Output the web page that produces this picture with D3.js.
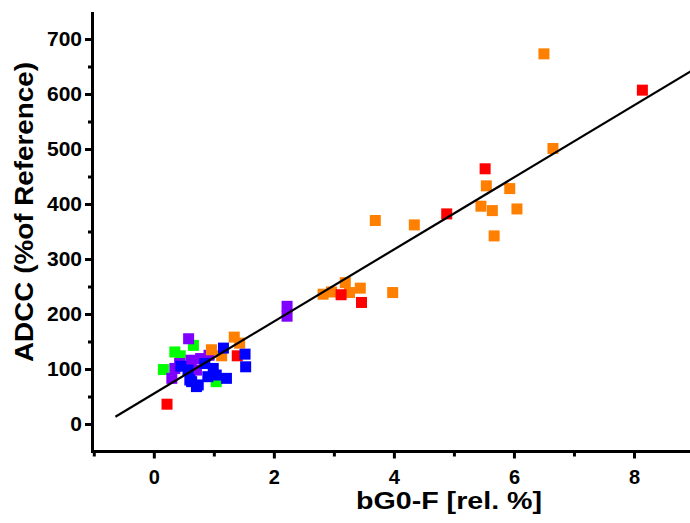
<!DOCTYPE html>
<html>
<head>
<meta charset="utf-8">
<script src="https://cdn.jsdelivr.net/npm/d3@7"></script>
<style>
  body { margin: 0; background: #fff; }
  text { font-family: "Liberation Sans", Arial, sans-serif; font-weight: bold; }
</style>
</head>
<body>
<script>
const w = 690;
const h = 523;

// series values (x = bG0-F rel. %, y = ADCC % of reference)
const orangeX = [6.5, 6.65, 5.93, 5.54, 5.45, 5.64, 6.05, 5.67, 3.69, 4.34, 3.19, 3.44, 3.26, 2.96, 2.82, 3.98, 1.34, 1.43, 0.96, 1.13];
const orangeY = [673, 501, 428, 433, 396, 388, 391, 342, 370, 362, 257, 247, 239, 240, 236, 239, 158, 147, 135, 124];
const redX = [8.14, 5.52, 4.88, 3.12, 3.46, 1.39, 0.22];
const redY = [607, 464, 382, 235, 221, 124, 36];
const greenX = [0.16, 0.35, 0.44, 0.66, 1.04];
const greenY = [99, 131, 124, 143, 77];
const purpleX = [2.22, 2.22, 0.58, 0.3, 0.43, 0.35, 0.78, 0.92, 0.71, 0.62];
const purpleY = [214, 196, 155, 83, 110, 101, 119, 125, 98, 116];
const blueX = [1.16, 1.52, 1.53, 0.57, 0.6, 0.71, 0.85, 0.9, 0.99, 1.04, 1.21, 0.74, 0.63, 0.45];
const blueY = [138, 127, 104, 98, 80, 68, 110, 86, 101, 89, 83, 71, 77, 105];

// fitted line y = a + b*x
const fitFrom = -0.64;
const fitTo = 9;
const fitA = 55.2;
const fitB = 65.5;

const xMajor = [0, 2, 4, 6, 8];
const xMinor = [-1, 1, 3, 5, 7, 9];
const yMajor = [0, 100, 200, 300, 400, 500, 600, 700];
const yMinor = [50, 150, 250, 350, 450, 550, 650];

const series = [
  {xs: greenX, ys: greenY, color: '#00ff00'},
  {xs: purpleX, ys: purpleY, color: '#8000ff'},
  {xs: orangeX, ys: orangeY, color: '#ff8000'},
  {xs: redX, ys: redY, color: '#ff0000'},
  {xs: blueX, ys: blueY, color: '#0000ff'}
];

let svg = d3.select('body')
  .append('svg')
  .attr('width', w)
  .attr('height', h);

let xScale = d3.scaleLinear().domain([-1.03, 9]).range([92, 694]);
let yScale = d3.scaleLinear().domain([-50, 750]).range([451.5, 11.5]);

// axes
let xAxisG = svg.append('g').attr('transform', 'translate(0,451.5)');
xAxisG.call(d3.axisBottom(xScale).tickValues(xMajor).tickSize(7).tickPadding(11).tickSizeOuter(0));
xAxisG.append('g').call(d3.axisBottom(xScale).tickValues(xMinor).tickSize(5).tickFormat('').tickSizeOuter(0))
  .select('.domain').remove();

let yAxisG = svg.append('g').attr('transform', 'translate(92,0)');
yAxisG.call(d3.axisLeft(yScale).tickValues(yMajor).tickSize(7).tickPadding(3).tickSizeOuter(0));
yAxisG.append('g').call(d3.axisLeft(yScale).tickValues(yMinor).tickSize(4).tickFormat('').tickSizeOuter(0))
  .select('.domain').remove();

svg.selectAll('.domain').attr('stroke', '#000').attr('stroke-width', 3);
svg.selectAll('.tick line').attr('stroke', '#000').attr('stroke-width', 3);
svg.selectAll('.tick text')
  .attr('font-family', '"Liberation Sans", Arial, sans-serif')
  .attr('font-weight', 'bold')
  .attr('font-size', 21)
  .attr('fill', '#000');
xAxisG.selectAll('.tick text').attr('font-size', 20);
xAxisG.selectAll('.domain').attr('d', 'M91,0H690');

// points
series.forEach((s) => {
  svg.append('g')
    .selectAll('rect')
    .data(s.xs.map((x, i) => [x, s.ys[i]]))
    .enter()
    .append('rect')
    .attr('x', (d) => xScale(d[0]) - 5.5)
    .attr('y', (d) => yScale(d[1]) - 5.5)
    .attr('width', 11)
    .attr('height', 11)
    .attr('fill', s.color);
});

// regression line
svg.append('line')
  .attr('x1', xScale(fitFrom))
  .attr('y1', yScale(fitA + fitB * fitFrom))
  .attr('x2', xScale(fitTo))
  .attr('y2', yScale(fitA + fitB * fitTo))
  .attr('stroke', '#000')
  .attr('stroke-width', 2.2);

// axis titles
svg.append('text')
  .attr('x', 449)
  .attr('y', 509)
  .attr('text-anchor', 'middle')
  .attr('font-size', 23)
  .attr('textLength', 186)
  .attr('lengthAdjust', 'spacingAndGlyphs')
  .text('bG0-F [rel. %]');

svg.append('text')
  .attr('transform', 'translate(33,212) rotate(-90)')
  .attr('text-anchor', 'middle')
  .attr('font-size', 25)
  .attr('textLength', 300)
  .attr('lengthAdjust', 'spacingAndGlyphs')
  .text('ADCC (%of Reference)');
</script>
</body>
</html>
